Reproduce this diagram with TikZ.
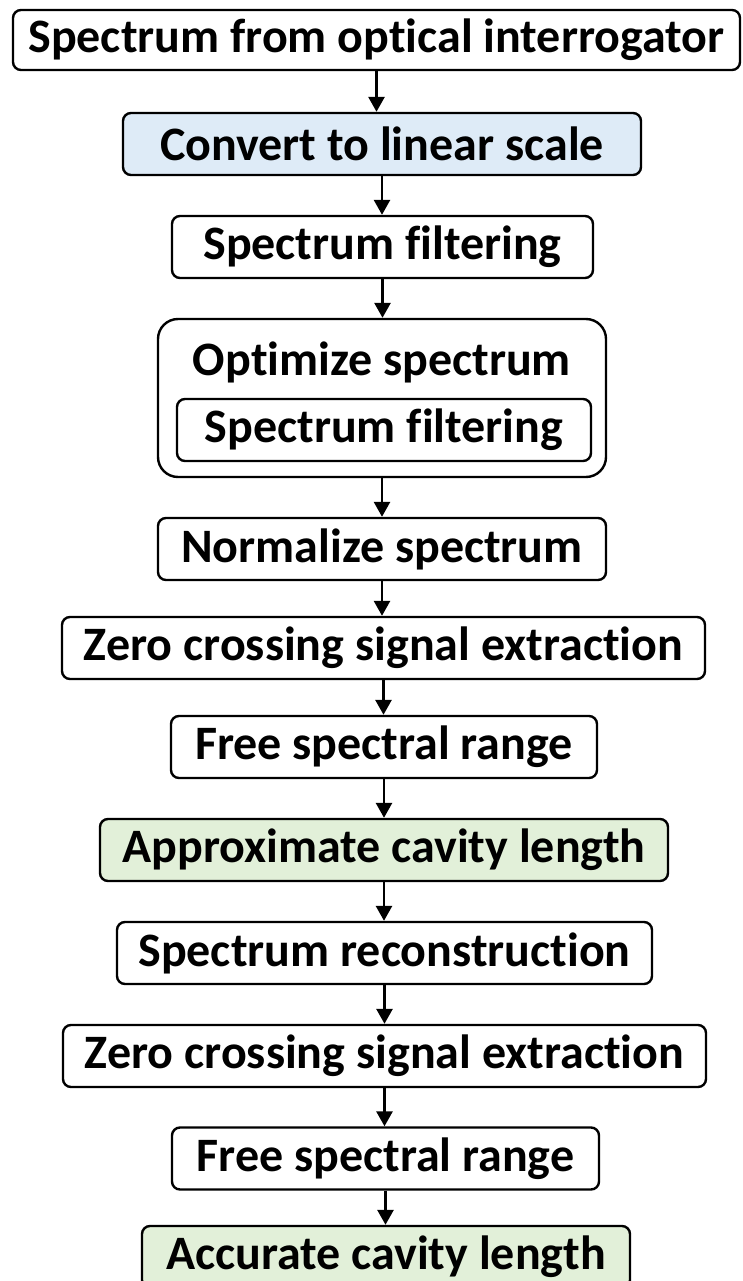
\documentclass[tikz,border=0pt]{standalone}
\usepackage{fontspec}
\setmainfont{Carlito}[RawFeature=-liga]
\usetikzlibrary{arrows.meta}
\definecolor{lightblue}{HTML}{DEEBF7}
\definecolor{lightgreen}{HTML}{E2F0D9}

\begin{document}
\begin{tikzpicture}[x=1pt,y=-1pt,
stepbox/.style={rectangle, draw, rounded corners=8pt, line width=2.4pt, minimum height=62pt, inner sep=0pt, font=\fontsize{48}{56}\selectfont\bfseries},
groupbox/.style={rectangle, draw, rounded corners=20pt, line width=2.4pt, inner sep=0pt},
headline/.style={draw=none, fill=none, inner sep=0pt, font=\fontsize{48}{56}\selectfont\bfseries},
flow/.style={line width=2.8pt, -{Triangle[width=16pt,length=15pt]}}]

%% page size
\useasboundingbox (0,0) rectangle (743,1281);

%% first steps
\node[stepbox, minimum width=727pt, minimum height=60pt] (spec) at (376.5,40) {Spectrum from optical interrogator};
\node[stepbox, fill=lightblue, minimum width=518pt] (conv) at (382,144) {Convert to linear scale};
\node[stepbox, minimum width=421pt] (filt) at (382.5,247) {Spectrum filtering};

%% optimization block with its inner step
\node[groupbox, minimum width=448pt, minimum height=158pt] (opt) at (382,398) {};
\node[headline] (opt-title) at (382,362) {Optimize spectrum};
\node[stepbox, minimum width=414pt] (opt-filt) at (384,430) {Spectrum filtering};

%% remaining steps
\node[stepbox, minimum width=448pt] (norm) at (382,549) {Normalize spectrum};
\node[stepbox, minimum width=643pt] (zc-1) at (383.5,648) {Zero crossing signal extraction};
\node[stepbox, minimum width=426pt] (fsr-1) at (384,747) {Free spectral range};
\node[stepbox, fill=lightgreen, minimum width=568pt] (approx) at (384,850) {Approximate cavity length};
\node[stepbox, minimum width=535pt] (recon) at (384.5,953) {Spectrum reconstruction};
\node[stepbox, minimum width=643pt] (zc-2) at (384.5,1056) {Zero crossing signal extraction};
\node[stepbox, minimum width=427pt] (fsr-2) at (385.5,1158.5) {Free spectral range};
\node[stepbox, fill=lightgreen, minimum width=488pt] (acc) at (386,1257) {Accurate cavity length};

%% place all arrows
\foreach \a/\b in {spec/conv, conv/filt, filt/opt, opt/norm, norm/zc-1, zc-1/fsr-1, fsr-1/approx, approx/recon, recon/zc-2, zc-2/fsr-2, fsr-2/acc}
      \draw[flow] (\a.south) -- (\a.south |- \b.north);

\end{tikzpicture}
\end{document}
